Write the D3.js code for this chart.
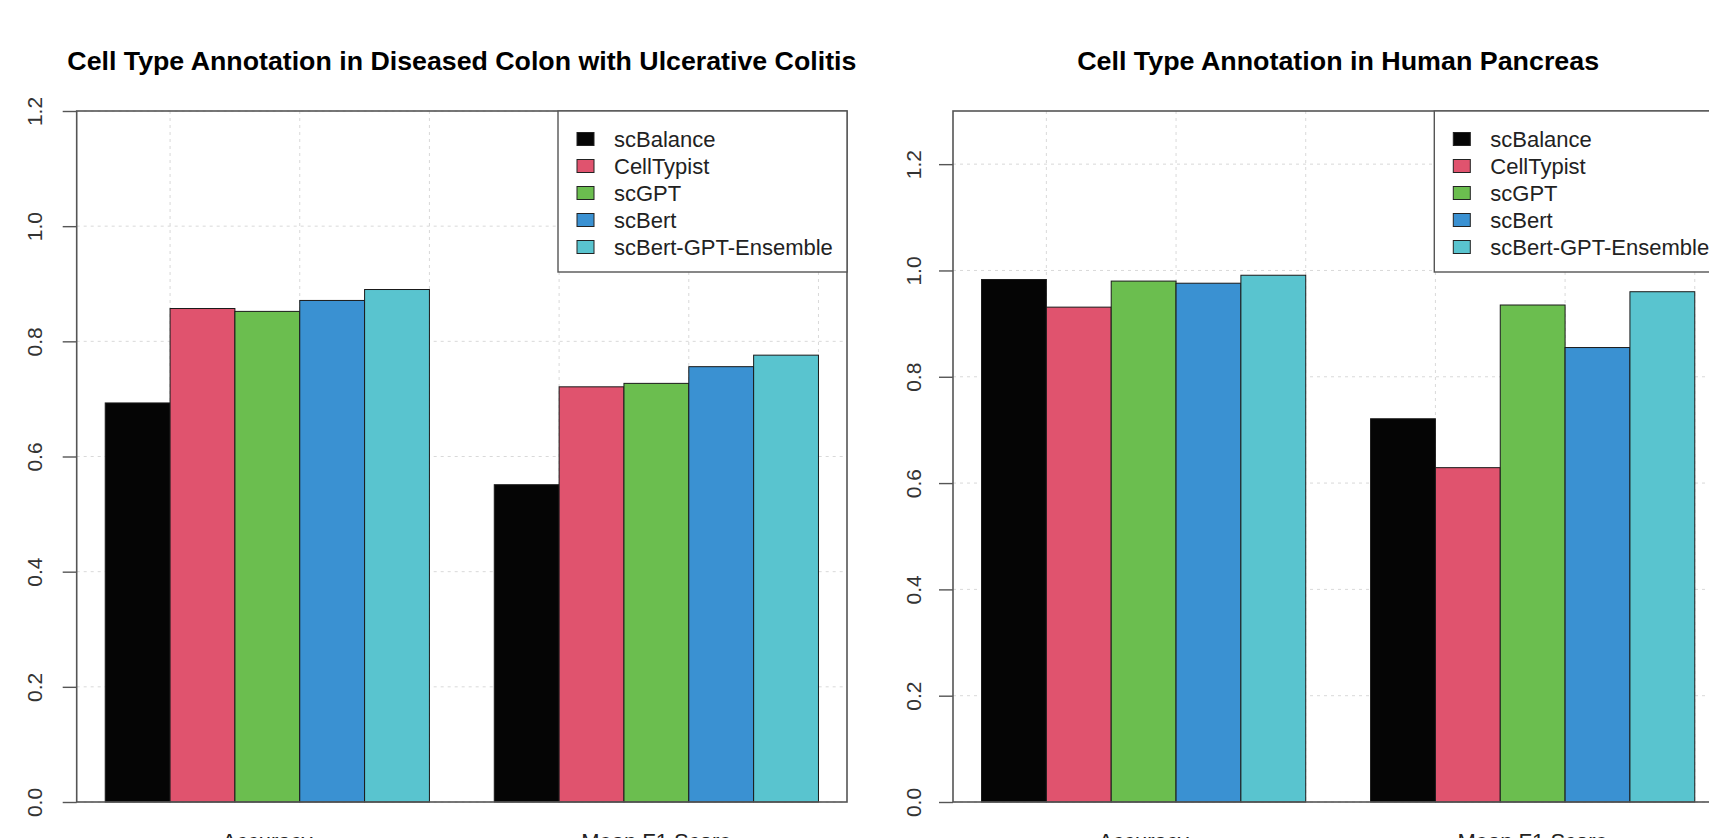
<!DOCTYPE html>
<html>
<head>
<meta charset="utf-8">
<script src="https://cdnjs.cloudflare.com/ajax/libs/d3/7.8.5/d3.min.js"></script>
<style>
  body { margin: 0; background: #fff; }
  svg { display: block; font-family: "Liberation Sans", Arial, Helvetica, sans-serif; }
</style>
</head>
<body>
<script>
"use strict";

// Data
var methods = ["scBalance", "CellTypist", "scGPT", "scBert", "scBert-GPT-Ensemble"];
var metrics = ["Accuracy", "Mean F1 Score"];
var colors = ["#050505", "#e0536e", "#6bbe4f", "#3a91d2", "#59c4cf"];

var colonAccuracy = [0.693, 0.857, 0.852, 0.871, 0.890];
var colonF1 = [0.551, 0.721, 0.727, 0.756, 0.776];
var pancreasAccuracy = [0.983, 0.931, 0.980, 0.976, 0.991];
var pancreasF1 = [0.721, 0.629, 0.935, 0.855, 0.960];

var colonTicks = [0, 0.2, 0.4, 0.6, 0.8, 1.0, 1.2];
var pancreasTicks = [0, 0.2, 0.4, 0.6, 0.8, 1.0, 1.2];
var gridX = [2, 4, 6, 8, 10, 12];

var W = 1709, H = 838;

var svg = d3.select("body").append("svg").attr("width", W).attr("height", H);

function drawPanel(p) {
  var g = svg.append("g");

  // R barplot style x: bars of width 1, groups separated by 1, 4% padding
  var xScale = d3.scaleLinear().domain([0.56, 12.44]).range([p.left, p.left + 770.3]);
  var yScale = d3.scaleLinear().domain([0, p.ymax]).range([802, 111]);

  var x0 = xScale.range()[0], x1 = xScale.range()[1];
  var y0 = yScale(0), yTop = yScale(p.ymax);

  //Grid
  g.selectAll(".gy").data(p.ticks).enter().append("line")
    .attr("x1", x0).attr("x2", x1)
    .attr("y1", function (d) { return yScale(d); })
    .attr("y2", function (d) { return yScale(d); })
    .attr("stroke", "#d9d9d9").attr("stroke-dasharray", "3,4").attr("stroke-width", 1);
  g.selectAll(".gx").data(gridX).enter().append("line")
    .attr("x1", function (d) { return xScale(d); })
    .attr("x2", function (d) { return xScale(d); })
    .attr("y1", yTop).attr("y2", y0)
    .attr("stroke", "#d9d9d9").attr("stroke-dasharray", "3,4").attr("stroke-width", 1);

  //Bars
  var rows = [];
  p.series.forEach(function (vals, gi) {
    vals.forEach(function (v, si) {
      rows.push({ pos: 1 + gi * 6 + si, value: v, color: colors[si] });
    });
  });
  g.selectAll(".bar").data(rows).enter().append("rect")
    .attr("x", function (d) { return xScale(d.pos); })
    .attr("width", function (d) { return xScale(d.pos + 1) - xScale(d.pos); })
    .attr("y", function (d) { return yScale(d.value); })
    .attr("height", function (d) { return y0 - yScale(d.value); })
    .attr("fill", function (d) { return d.color; })
    .attr("stroke", "#1a1a1a").attr("stroke-width", 1);

  //Box
  g.append("rect").attr("x", x0).attr("y", yTop).attr("width", x1 - x0).attr("height", y0 - yTop)
    .attr("fill", "none").attr("stroke", "#555").attr("stroke-width", 1.6);

  //Y axis
  var yAxis = d3.axisLeft(yScale).tickValues(p.ticks).tickSize(14).tickPadding(0)
    .tickFormat(d3.format(".1f"));
  var ya = g.append("g").attr("transform", "translate(" + x0 + ",0)").call(yAxis);
  ya.select(".domain").remove();
  ya.selectAll(".tick line").attr("stroke", "#555").attr("stroke-width", 1.4);
  ya.selectAll(".tick text")
    .attr("x", 0).attr("dy", null)
    .attr("transform", "translate(" + (-p.labelOff) + ",0) rotate(-90)")
    .attr("text-anchor", "middle")
    .attr("fill", "#333").style("font-size", "21px");

  //Group labels (cut off at page bottom)
  g.selectAll(".glab").data(metrics).enter().append("text")
    .attr("x", function (d, i) { return xScale(1 + i * 6 + 2.5); })
    .attr("y", 849).attr("text-anchor", "middle")
    .attr("fill", "#222").style("font-size", "22px")
    .text(function (d) { return d; });

  //Title
  g.append("text").attr("x", (x0 + x1) / 2).attr("y", 70).attr("text-anchor", "middle")
    .style("font-size", "26px").style("font-weight", "bold")
    .attr("textLength", p.titleLen).attr("lengthAdjust", "spacingAndGlyphs")
    .text(p.title);

  //Legend
  var lx = x1 - 289;
  var legend = g.append("g");
  legend.append("rect").attr("x", lx).attr("y", yTop).attr("width", 289).attr("height", 161)
    .attr("fill", "#fff").attr("stroke", "#555").attr("stroke-width", 1.4);
  legend.selectAll(".sw").data(methods).enter().append("rect")
    .attr("x", lx + 19).attr("y", function (d, i) { return 132.5 + i * 27; })
    .attr("width", 17).attr("height", 13)
    .attr("fill", function (d, i) { return colors[i]; })
    .attr("stroke", "#222").attr("stroke-width", 1);
  legend.selectAll(".lt").data(methods).enter().append("text")
    .attr("x", lx + 56).attr("y", function (d, i) { return 139 + i * 27; })
    .attr("dy", "0.35em").attr("fill", "#222").style("font-size", "22px")
    .text(function (d) { return d; });
}

drawPanel({
  left: 76.7, ymax: 1.2, ticks: colonTicks, labelOff: 35, titleLen: 789,
  title: "Cell Type Annotation in Diseased Colon with Ulcerative Colitis",
  series: [colonAccuracy, colonF1]
});

drawPanel({
  left: 953, ymax: 1.3, ticks: pancreasTicks, labelOff: 32, titleLen: 522,
  title: "Cell Type Annotation in Human Pancreas",
  series: [pancreasAccuracy, pancreasF1]
});
</script>
</body>
</html>
